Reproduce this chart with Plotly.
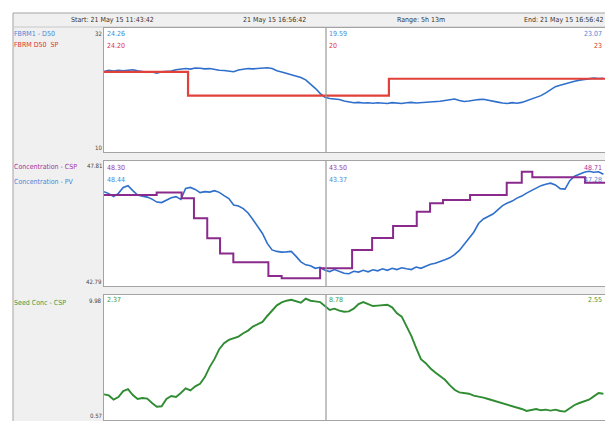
import numpy as np
import pandas as pd
import plotly.graph_objects as go

# ---- time base -------------------------------------------------------------
START = pd.Timestamp("2015-05-21 11:43:42")
END = pd.Timestamp("2015-05-21 16:56:42")
CURSOR = pd.Timestamp("2015-05-21 14:02:24")
SAMPLE_MIN = 3  # logged every 3 minutes

# ---- panel 1: FBRM D50 ------------------------------------------------------
d50_pv = [
    24.26, 24.5, 24.35, 24.5, 24.4, 24.5, 24.6, 24.4, 24.25, 24.15,
    24.2, 24.0, 24.25, 24.3, 24.35, 24.6, 24.75, 24.8, 24.7, 24.9,
    24.85, 24.75, 24.8, 24.6, 24.5, 24.45, 24.3, 24.25, 24.55, 24.65,
    24.8, 24.75, 24.85, 24.9, 24.95, 24.8, 24.4, 24.2, 23.95, 23.75,
    23.5, 23.2, 22.8, 22.1, 21.3, 20.4, 19.7, 19.5, 19.45, 19.3,
    19.05, 18.85, 18.75, 18.8, 18.7, 18.75, 18.65, 18.75, 18.7, 18.6,
    18.75, 18.7, 18.6, 18.75, 18.8, 18.7, 18.75, 18.85, 18.8, 18.9,
    19.0, 19.15, 19.3, 19.4, 19.15, 18.95, 19.05, 19.2, 19.3, 19.35,
    19.15, 18.95, 18.85, 18.7, 18.6, 18.75, 18.65, 18.8, 19.1, 19.5,
    19.75, 20.0, 20.5, 21.0, 21.6, 21.85, 22.1, 22.4, 22.55, 22.75,
    22.9, 23.0, 23.1, 23.05, 23.07,
]
d50_sp_min = [0, 52.5, 178, 313]
d50_sp = [24.20, 20, 23, 23]

# ---- panel 2: concentration -------------------------------------------------
conc_pv = [
    46.58, 46.5, 46.38, 46.51, 46.75, 46.82, 46.62, 46.44, 46.40, 46.36,
    46.28, 46.16, 46.14, 46.25, 46.33, 46.38, 46.27, 46.71, 46.75, 46.67,
    46.54, 46.58, 46.56, 46.62, 46.55, 46.42, 46.3, 46.04, 46.0, 45.9,
    45.72, 45.46, 45.2, 44.9, 44.5, 44.24, 44.18, 44.15, 44.16, 44.18,
    43.98, 43.76, 43.64, 43.6, 43.5, 43.54, 43.42, 43.37, 43.45, 43.38,
    43.3, 43.28, 43.38, 43.35, 43.42, 43.36, 43.44, 43.4, 43.48, 43.42,
    43.5, 43.45, 43.52, 43.48, 43.45, 43.55, 43.5, 43.58, 43.66, 43.7,
    43.76, 43.84, 43.92, 44.05, 44.22, 44.45, 44.68, 44.95, 45.3, 45.48,
    45.58, 45.68, 45.85, 46.02, 46.12, 46.2, 46.32, 46.4, 46.52, 46.62,
    46.7, 46.82, 46.88, 46.92, 46.85, 46.7, 46.68, 47.02, 47.2, 47.28,
    47.36, 47.4, 47.36, 47.38, 47.28,
]
conc_csp_min = [0, 32.9, 48.5, 56.2, 64.5, 72.5, 80.8, 102.7, 111, 135,
                155, 167.5, 180.6, 195.4, 203.7, 211.8, 228.7, 251.6, 261,
                267.6, 300.5, 313]
conc_csp = [46.44, 46.54, 46.31, 45.51, 44.71, 44.10, 43.74, 43.19, 43.10, 43.50,
            44.24, 44.72, 45.2, 45.77, 46.11, 46.24, 46.44, 46.94, 47.38,
            47.16, 46.94, 46.94]

# ---- panel 3: seed concentration --------------------------------------------
seed_csp = [
    2.5, 2.42, 2.1, 2.3, 2.75, 2.9, 2.45, 2.15, 2.22, 2.18,
    1.85, 1.57, 1.6, 2.15, 2.38, 2.3, 2.6, 2.95, 2.8, 3.1,
    3.3, 3.8, 4.55, 5.15, 5.9, 6.35, 6.6, 6.7, 6.85, 7.1,
    7.3, 7.6, 7.8, 7.95, 8.4, 8.8, 9.2, 9.42, 9.55, 9.62,
    9.5, 9.4, 9.7, 9.55, 9.5, 9.45, 9.15, 8.85, 8.95, 8.8,
    8.72, 8.75, 8.95, 9.3, 9.45, 9.28, 9.15, 9.18, 9.2, 9.25,
    9.05, 8.6, 8.35, 7.65, 6.9, 6.0, 5.15, 4.85, 4.45, 4.15,
    3.9, 3.6, 3.2, 2.85, 2.65, 2.6, 2.55, 2.4, 2.35, 2.25,
    2.15, 2.05, 1.95, 1.85, 1.7, 1.6, 1.55, 1.4, 1.25, 1.3,
    1.4, 1.3, 1.35, 1.28, 1.35, 1.25, 1.2, 1.45, 1.7, 1.85,
    1.95, 2.1, 2.35, 2.6, 2.55,
]

# ---- axis limits and readouts -------------------------------------------------
p1_range = [10, 32]
p2_range = [42.79, 47.81]
p3_range = [0.57, 9.98]
p1_range_text = ["10", "32"]
p2_range_text = ["42.79", "47.81"]
p3_range_text = ["0.57", "9.98"]

header_start = "Start: 21 May 15 11:43:42"
header_cursor = "21 May 15 16:56:42"
header_range = "Range: 5h 13m"
header_end = "End: 21 May 15 16:56:42"

readouts = {
    # series: (start, cursor, end)
    "d50_pv": ("24.26", "19.59", "23.07"),
    "d50_sp": ("24.20", "20", "23"),
    "conc_csp": ("48.30", "43.50", "48.71"),
    "conc_pv": ("48.44", "43.37", "47.28"),
    "seed_csp": ("2.37", "8.78", "2.55"),
}

# ---- colours ----------------------------------------------------------------
BLUE = "#2f6fcc"
RED = "#e2413a"
PURPLE = "#8a2a8c"
GREEN = "#2f8c32"
BLUE_T = "#4a86d6"
RED_T = "#e0332d"
PURPLE_T = "#a3339c"
GREEN_T = "#3d9a3d"
FRAME = "#a3a3a3"
PANEL_BG = "#f0f0f0"

# ---- geometry (figure pixels) -----------------------------------------------
W, H = 605, 421
ML, MR, MT, MB = 104, 0, 28, 1
PW, PH = W - ML - MR, H - MT - MB


def fx(px):
    return (px - ML) / PW


def fy(py):
    return (H - MB - py) / PH


dom1 = [fy(152), fy(28)]
dom2 = [fy(286), fy(161)]
dom3 = [fy(420), fy(295)]

t_samples = START + pd.to_timedelta(np.arange(len(d50_pv)) * SAMPLE_MIN, unit="min")
t_d50_sp = START + pd.to_timedelta(d50_sp_min, unit="min")
t_conc_csp = START + pd.to_timedelta(conc_csp_min, unit="min")

fig = go.Figure()
fig.add_trace(go.Scatter(x=t_samples, y=d50_pv, mode="lines",
                         line=dict(color=BLUE, width=1.6), xaxis="x", yaxis="y"))
fig.add_trace(go.Scatter(x=t_d50_sp, y=d50_sp, mode="lines", line_shape="hv",
                         line=dict(color=RED, width=2.2), xaxis="x", yaxis="y"))
fig.add_trace(go.Scatter(x=t_samples, y=conc_pv, mode="lines",
                         line=dict(color=BLUE, width=1.6), xaxis="x2", yaxis="y2"))
fig.add_trace(go.Scatter(x=t_conc_csp, y=conc_csp, mode="lines", line_shape="hv",
                         line=dict(color=PURPLE, width=2), xaxis="x2", yaxis="y2"))
fig.add_trace(go.Scatter(x=t_samples, y=seed_csp, mode="lines",
                         line=dict(color=GREEN, width=1.9), xaxis="x3", yaxis="y3"))

xcommon = dict(range=[START, END], showticklabels=False, showgrid=False,
               zeroline=False, showline=True, mirror=True, linecolor=FRAME,
               linewidth=1, ticks="", domain=[0, 1])
ycommon = dict(showticklabels=False, showgrid=False, zeroline=False,
               showline=True, mirror=True, linecolor=FRAME, linewidth=1, ticks="")

FONT = "Liberation Sans Narrow, DejaVu Sans Condensed, Liberation Sans, Arial, sans-serif"

fig.update_layout(
    width=W, height=H, autosize=False,
    margin=dict(l=ML, r=MR, t=MT, b=MB, pad=0),
    paper_bgcolor="white", plot_bgcolor="white",
    showlegend=False, hovermode=False,
    font=dict(family=FONT, size=7, color="#333333"),
    xaxis=dict(xcommon, anchor="y"),
    xaxis2=dict(xcommon, anchor="y2"),
    xaxis3=dict(xcommon, anchor="y3"),
    yaxis=dict(ycommon, domain=dom1, range=p1_range, anchor="x"),
    yaxis2=dict(ycommon, domain=dom2, range=p2_range, anchor="x2"),
    yaxis3=dict(ycommon, domain=dom3, range=p3_range, anchor="x3"),
)

# ---- background frame, header strip and white panels -------------------------
shapes = [
    dict(type="rect", xref="paper", yref="paper", x0=fx(13), x1=fx(W + 2),
         y0=fy(H + 2), y1=fy(13), fillcolor=PANEL_BG, line=dict(color=FRAME, width=1),
         layer="below"),
    dict(type="line", xref="paper", yref="paper", x0=fx(13), x1=fx(W + 2),
         y0=fy(27), y1=fy(27), line=dict(color="#c8c8c8", width=1), layer="below"),
]
for dom in (dom1, dom2, dom3):
    shapes.append(dict(type="rect", xref="paper", yref="paper", x0=0, x1=1,
                       y0=dom[0], y1=dom[1], fillcolor="white",
                       line=dict(width=0), layer="below"))
# cursor line through every panel
for ax in ("y", "y2", "y3"):
    shapes.append(dict(type="line", xref=ax.replace("y", "x"), yref=f"{ax} domain",
                       x0=CURSOR, x1=CURSOR, y0=0, y1=1,
                       line=dict(color="#9a9a9a", width=1.2), layer="above"))
fig.update_layout(shapes=shapes)

# ---- text ------------------------------------------------------------------
ann = []


def text(s, px, py, color="#333333", xanchor="left", yanchor="middle", size=7):
    ann.append(dict(text=s, x=fx(px), y=fy(py), xref="paper", yref="paper",
                    xanchor=xanchor, yanchor=yanchor, showarrow=False,
                    font=dict(color=color, size=size, family=FONT),
                    borderpad=0, xshift=0))


# header strip
text(header_start, 112, 20, "#333333", "center")
text(header_cursor, 274, 20, "#333333", "center")
text(header_range, 421, 20, "#333333", "center")
text(header_end, 604, 20, "#333333", "right")

# series names
text("FBRM1 - D50", 13, 34, BLUE_T)
text("FBRM D50  SP", 13, 45.5, RED_T)
text("Concentration - CSP", 13, 167, PURPLE_T)
text("Concentration - PV", 13, 182, BLUE_T)
text("Seed Conc - CSP", 13, 303, GREEN_T)

# axis limits
for rng_txt, top, bot in ((p1_range_text, 28, 152), (p2_range_text, 161, 286),
                          (p3_range_text, 295, 420)):
    text(rng_txt[1], 103, top + 0.5, "#444444", "right", "top", 6)
    text(rng_txt[0], 103, bot - 0.5, "#444444", "right", "bottom", 6)

# readouts: start, cursor, end
rows = [("d50_pv", BLUE_T, 34), ("d50_sp", RED_T, 46),
        ("conc_csp", PURPLE_T, 168), ("conc_pv", BLUE_T, 180),
        ("seed_csp", GREEN_T, 300)]
for key, col, py in rows:
    s0, sc, se = readouts[key]
    text(s0, 106, py, col)
    text(sc, 328, py, col)
    text(se, 603, py, col, "right")

fig.update_layout(annotations=ann)

fig.write_html("out.html")
